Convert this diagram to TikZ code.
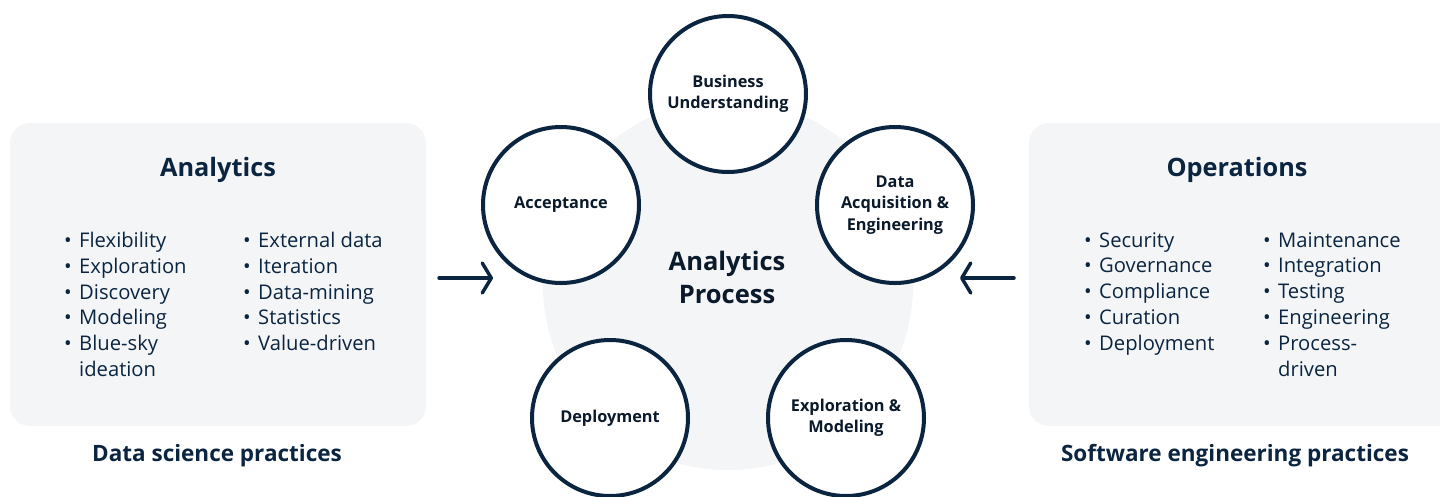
\documentclass[tikz,border=0pt]{standalone}
\usepackage{fontspec}
\setmainfont{Open Sans}
\usetikzlibrary{arrows.meta}
\definecolor{navy}{HTML}{0B2540}
\definecolor{panel}{HTML}{F3F5F7}
\definecolor{ink}{HTML}{0A1A2A}
\tikzset{
  stage/.style={circle, draw=navy, line width=4pt, fill=white, minimum size=156pt, inner sep=0pt, align=center, text=ink, font=\fontsize{16.3}{21.5}\selectfont\bfseries},
  panelbox/.style={fill=panel, rounded corners=20pt, draw=none},
  title/.style={text=navy, font=\fontsize{25.3}{30}\selectfont\bfseries},
  foot/.style={text=navy, font=\fontsize{22.5}{27}\selectfont\bfseries},
  items/.style={text=navy, align=left, anchor=north west, inner sep=0pt, font=\fontsize{20.2}{25.8}\selectfont},
  flow/.style={draw=navy, line width=3.5pt, line cap=round, -{Straight Barb[length=9pt, width=30pt, line cap=round, line join=round]}},
}
\newcommand{\bul}{\makebox[15pt][l]{\textbullet}}
\newcommand{\hang}{\makebox[15pt][l]{}}
\begin{document}
\begin{tikzpicture}[x=1pt, y=-1pt]
\useasboundingbox (0,0) rectangle (1440,496);
% panels
\path[panelbox] (10,123) rectangle (426,426);
\path[panelbox] (1029,123) rectangle (1460,426);
\path[fill=panel] (728,285) circle (185);
% titles
\node[title] (atitle) at (218,170) {Analytics};
\node[title] (otitle) at (1237,170) {Operations};
% lists
\node[items] (la) at (64,232) {\bul Flexibility\\\bul Exploration\\\bul Discovery\\\bul Modeling\\\bul Blue-sky\\\hang ideation};
\node[items] (lb) at (243,232) {\bul External data\\\bul Iteration\\\bul Data-mining\\\bul Statistics\\\bul Value-driven};
\node[items] (ra) at (1084,232) {\bul Security\\\bul Governance\\\bul Compliance\\\bul Curation\\\bul Deployment};
\node[items] (rb) at (1263,232) {\bul Maintenance\\\bul Integration\\\bul Testing\\\bul Engineering\\\bul Process-\\\hang driven};
% footers
\node[foot] (afoot) at (217,456) {Data science practices};
\node[foot] (ofoot) at (1235,456) {Software engineering practices};
% stages
\node[stage] (bu) at (728,94) {Business\\Understanding};
\node[stage] (acc) at (561,205) {Acceptance};
\node[stage] (daq) at (895,205) {Data\\Acquisition \&\\Engineering};
\node[stage] (dep) at (610,418) {Deployment};
\node[stage] (exp) at (846,418) {Exploration \&\\Modeling};
\node[text=ink, align=center, font=\fontsize{25.5}{33}\selectfont\bfseries] (proc) at (727,277) {Analytics\\Process};
% arrows
\coordinate (l1) at (439,278);
\coordinate (l2) at (493,278);
\coordinate (r1) at (1014,278);
\coordinate (r2) at (960,278);
\draw[flow] (l1) -- (l2);
\draw[flow] (r1) -- (r2);
\end{tikzpicture}
\end{document}
